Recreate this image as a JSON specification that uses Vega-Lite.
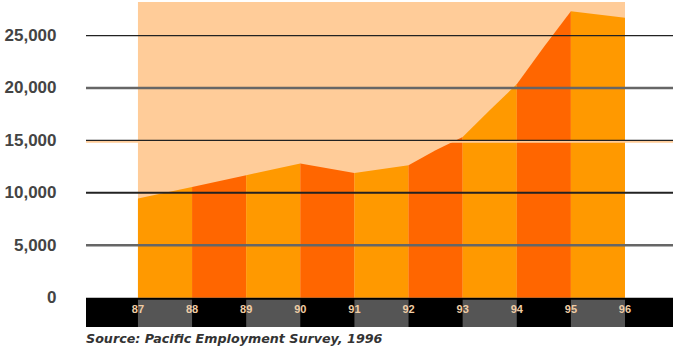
{
  "$schema": "https://vega.github.io/schema/vega-lite/v6.json",
  "autosize": "none",
  "width": 587,
  "height": 325,
  "padding": {"left": 86, "top": 2, "right": 12, "bottom": 21},
  "background": "white",
  "config": {"view": {"stroke": null}},
  "title": {
    "text": "Source: Pacific Employment Survey, 1996",
    "orient": "bottom",
    "anchor": "start",
    "frame": "group",
    "font": "DejaVu Sans",
    "fontSize": 12.7,
    "fontStyle": "italic",
    "fontWeight": "bold",
    "color": "#333333",
    "offset": 6
  },
  "datasets": {
    "area": [
      {"year": 87, "jobs": 9456, "seg": 1, "shade": "light"},
      {"year": 88, "jobs": 10563, "seg": 1, "shade": "light"},
      {"year": 88, "jobs": 10563, "seg": 2, "shade": "dark"},
      {"year": 89, "jobs": 11679, "seg": 2, "shade": "dark"},
      {"year": 89, "jobs": 11679, "seg": 3, "shade": "light"},
      {"year": 90, "jobs": 12796, "seg": 3, "shade": "light"},
      {"year": 90, "jobs": 12796, "seg": 4, "shade": "dark"},
      {"year": 91, "jobs": 11899, "seg": 4, "shade": "dark"},
      {"year": 91, "jobs": 11899, "seg": 5, "shade": "light"},
      {"year": 92, "jobs": 12634, "seg": 5, "shade": "light"},
      {"year": 92, "jobs": 12634, "seg": 6, "shade": "dark"},
      {"year": 92.5, "jobs": 14065, "seg": 6, "shade": "dark"},
      {"year": 93, "jobs": 15334, "seg": 6, "shade": "dark"},
      {"year": 93, "jobs": 15334, "seg": 7, "shade": "light"},
      {"year": 93.5, "jobs": 17882, "seg": 7, "shade": "light"},
      {"year": 94, "jobs": 20363, "seg": 7, "shade": "light"},
      {"year": 94, "jobs": 20363, "seg": 8, "shade": "dark"},
      {"year": 94.5, "jobs": 23900, "seg": 8, "shade": "dark"},
      {"year": 95, "jobs": 27328, "seg": 8, "shade": "dark"},
      {"year": 95, "jobs": 27328, "seg": 9, "shade": "light"},
      {"year": 96, "jobs": 26689, "seg": 9, "shade": "light"}
    ],
    "years": [
      {"year": 87, "label": "87"}, {"year": 88, "label": "88"},
      {"year": 89, "label": "89"}, {"year": 90, "label": "90"},
      {"year": 91, "label": "91"}, {"year": 92, "label": "92"},
      {"year": 93, "label": "93"}, {"year": 94, "label": "94"},
      {"year": 95, "label": "95"}, {"year": 96, "label": "96"}
    ],
    "patches": [
      {"start": 87, "end": 88}, {"start": 89, "end": 90},
      {"start": 91, "end": 92}, {"start": 93, "end": 94},
      {"start": 95, "end": 96}
    ],
    "span": [{"start": 87, "end": 96}]
  },
  "layer": [
    {
      "data": {"name": "span"},
      "mark": {"type": "rect", "color": "#FFCC99"},
      "encoding": {
        "x": {"field": "start", "type": "quantitative",
              "scale": {"domain": [86.04, 96.887], "nice": false, "zero": false},
              "axis": null},
        "x2": {"field": "end"},
        "y": {"datum": 0, "type": "quantitative",
              "scale": {"domain": [-2800, 28200], "nice": false, "zero": false},
              "axis": {
                "values": [0, 5000, 10000, 15000, 20000, 25000],
                "labelExpr": "format(datum.value, ',')",
                "grid": false, "domain": false, "ticks": false,
                "labelPadding": 30,
                "labelFont": "Liberation Sans",
                "labelFontSize": 17,
                "labelFontWeight": "bold",
                "labelColor": "#444444",
                "title": null
              }},
        "y2": {"datum": 28200}
      }
    },
    {
      "data": {"name": "area"},
      "mark": {"type": "area", "interpolate": "linear"},
      "encoding": {
        "x": {"field": "year", "type": "quantitative"},
        "y": {"field": "jobs", "type": "quantitative"},
        "y2": {"datum": 0},
        "detail": {"field": "seg"},
        "color": {"field": "shade", "type": "nominal",
                  "scale": {"domain": ["light", "dark"], "range": ["#FF9900", "#FF6600"]},
                  "legend": null}
      }
    },
    {
      "data": {"values": [{"g": 14880}]},
      "mark": {"type": "rule", "color": "#FFCC99", "strokeWidth": 2},
      "encoding": {"y": {"field": "g", "type": "quantitative"}}
    },
    {
      "data": {"values": [{"g": 15000}, {"g": 25000}]},
      "mark": {"type": "rule", "color": "#222222", "strokeWidth": 1.3},
      "encoding": {"y": {"field": "g", "type": "quantitative"}}
    },
    {
      "data": {"values": [{"g": 10000}]},
      "mark": {"type": "rule", "color": "#222222", "strokeWidth": 2},
      "encoding": {"y": {"field": "g", "type": "quantitative"}}
    },
    {
      "data": {"values": [{"g": 5000}, {"g": 20000}]},
      "mark": {"type": "rule", "color": "#666666", "strokeWidth": 2.6},
      "encoding": {"y": {"field": "g", "type": "quantitative"}}
    },
    {
      "data": {"values": [{"b": 0}]},
      "mark": {"type": "rect", "color": "#000000"},
      "encoding": {
        "y": {"datum": 0, "type": "quantitative"},
        "y2": {"datum": -2800}
      }
    },
    {
      "data": {"name": "patches"},
      "mark": {"type": "rect", "color": "#555555"},
      "encoding": {
        "x": {"field": "start", "type": "quantitative"},
        "x2": {"field": "end"},
        "y": {"datum": -200, "type": "quantitative"},
        "y2": {"datum": -2800}
      }
    },
    {
      "data": {"name": "years"},
      "mark": {"type": "text", "font": "Liberation Sans", "fontSize": 11, "fontWeight": "bold",
               "color": "#F0CDA5", "align": "center", "baseline": "middle"},
      "encoding": {
        "x": {"field": "year", "type": "quantitative"},
        "y": {"datum": -1180, "type": "quantitative"},
        "text": {"field": "label"}
      }
    }
  ]
}
